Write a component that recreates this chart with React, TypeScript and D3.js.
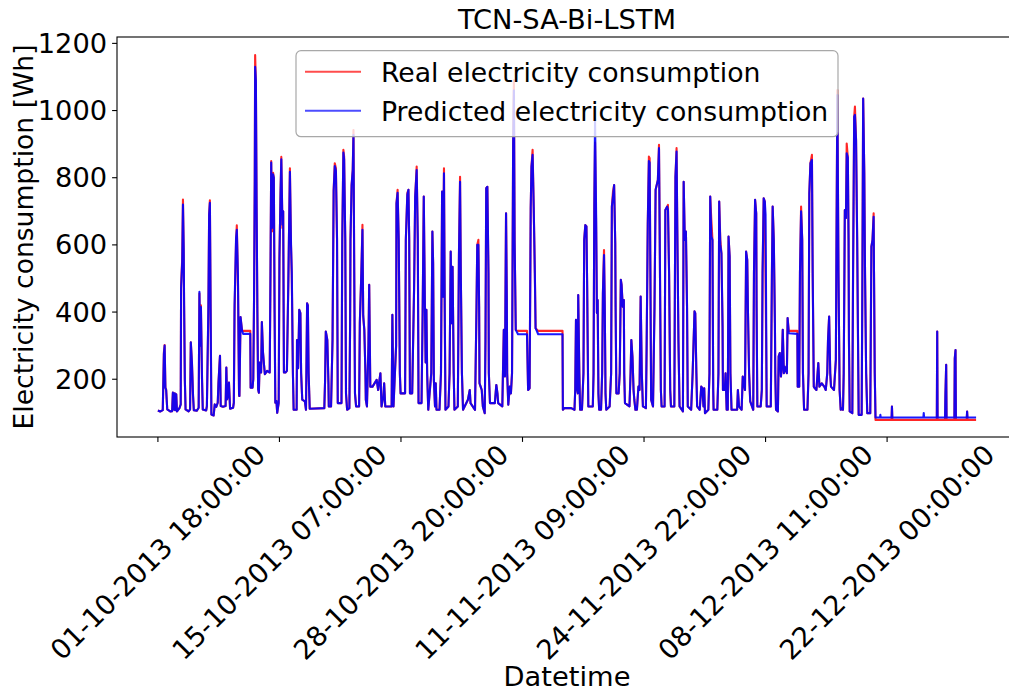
import React from 'react';
import * as d3 from 'd3';

const chartTitle = 'TCN-SA-Bi-LSTM';
const xAxisLabel = 'Datetime';
const yAxisLabel = 'Electricity consumption [Wh]';
const seriesNames = ['Real electricity consumption', 'Predicted electricity consumption'];
const seriesColors = ['#ff0000', '#0000ff'];
const pointCount = 2189;
const xTickIndex = [0, 325, 650, 975, 1300, 1625, 1950];
const xTickLabels = [
  '01-10-2013 18:00:00',
  '15-10-2013 07:00:00',
  '28-10-2013 20:00:00',
  '11-11-2013 09:00:00',
  '24-11-2013 22:00:00',
  '08-12-2013 11:00:00',
  '22-12-2013 00:00:00',
];
const yTicks = [200, 400, 600, 800, 1000, 1200];

// [hour index, real Wh, predicted Wh]
const samples: [number, number, number][] = [
  [0, 107, 107], [6, 104, 104], [13, 108, 108], [16, 280, 275], [18, 302, 300], [20, 175, 175], [22, 170, 168], [25, 110, 110],
  [33, 104, 104], [38, 105, 105], [40, 160, 160], [42, 110, 110], [45, 158, 158], [46, 108, 108], [49, 155, 155], [51, 104, 104],
  [58, 115, 115], [61, 125, 125], [62, 480, 470], [65, 560, 550], [67, 735, 720], [69, 580, 590], [70, 420, 430], [72, 200, 200],
  [74, 110, 110], [82, 104, 104], [86, 110, 110], [88, 310, 310], [91, 250, 250], [94, 150, 150], [96, 108, 108], [104, 106, 106],
  [109, 115, 115], [111, 455, 460], [113, 300, 300], [115, 420, 415], [118, 200, 200], [120, 110, 110], [129, 107, 107], [131, 120, 120],
  [135, 400, 420], [137, 690, 690], [139, 733, 725], [141, 400, 410], [143, 95, 95], [149, 92, 92], [152, 125, 125], [156, 118, 118],
  [160, 130, 130], [162, 190, 190], [164, 230, 230], [166, 270, 270], [168, 120, 120], [174, 118, 118], [181, 120, 120], [183, 235, 235],
  [185, 140, 140], [187, 150, 150], [190, 190, 190], [193, 112, 112], [201, 115, 115], [203, 130, 130], [205, 400, 420], [209, 610, 620],
  [211, 658, 645], [214, 500, 510], [217, 150, 155], [218, 150, 150], [221, 385, 385], [225, 345, 345], [228, 344, 335], [247, 344, 335],
  [248, 175, 175], [253, 175, 175], [255, 200, 200], [257, 420, 430], [259, 780, 790], [260, 1165, 1130], [262, 1080, 1090], [264, 700, 710],
  [266, 400, 400], [268, 170, 170], [270, 160, 160], [272, 250, 250], [276, 220, 220], [278, 370, 370], [281, 280, 280], [284, 240, 240],
  [286, 215, 215], [292, 225, 225], [299, 220, 220], [301, 500, 510], [303, 850, 845], [305, 640, 650], [308, 815, 810], [310, 800, 800],
  [312, 400, 410], [314, 130, 130], [317, 135, 135], [319, 100, 100], [323, 130, 130], [325, 560, 560], [328, 760, 760], [330, 862, 855],
  [333, 650, 660], [335, 700, 700], [337, 220, 220], [341, 220, 220], [345, 225, 225], [349, 500, 510], [353, 828, 818], [356, 595, 600],
  [358, 510, 520], [361, 218, 220], [363, 109, 109], [371, 109, 109], [372, 317, 317], [375, 233, 233], [378, 407, 407], [381, 397, 397],
  [383, 218, 218], [386, 139, 139], [393, 134, 134], [396, 109, 109], [399, 426, 426], [401, 420, 420], [403, 218, 218], [406, 112, 112],
  [445, 114, 114], [447, 193, 193], [449, 342, 342], [453, 317, 317], [456, 190, 190], [457, 119, 119], [463, 119, 119], [467, 317, 320],
  [470, 764, 760], [473, 843, 835], [476, 828, 820], [479, 615, 620], [481, 129, 129], [491, 129, 129], [493, 615, 620], [496, 883, 875],
  [498, 863, 855], [501, 615, 620], [503, 158, 158], [506, 109, 109], [512, 114, 114], [514, 367, 367], [515, 615, 615], [518, 778, 778],
  [521, 823, 823], [523, 942, 927], [525, 516, 520], [527, 158, 158], [530, 119, 119], [538, 119, 119], [540, 367, 370], [544, 516, 516],
  [547, 660, 645], [549, 387, 390], [552, 347, 347], [555, 218, 218], [556, 139, 139], [559, 119, 119], [563, 300, 300], [565, 481, 481],
  [568, 178, 178], [574, 178, 178], [585, 198, 198], [589, 168, 168], [595, 218, 218], [598, 119, 119], [603, 149, 149], [605, 188, 188],
  [608, 119, 119], [625, 119, 119], [627, 392, 392], [630, 119, 119], [637, 300, 300], [638, 724, 724], [641, 764, 755], [644, 615, 615],
  [647, 218, 218], [649, 158, 158], [661, 158, 158], [663, 615, 615], [667, 754, 749], [670, 764, 764], [672, 615, 615], [674, 158, 158],
  [680, 158, 158], [685, 466, 466], [688, 744, 744], [692, 833, 823], [695, 615, 615], [697, 129, 129], [705, 129, 129], [708, 400, 400],
  [711, 744, 744], [714, 416, 416], [716, 250, 250], [718, 407, 407], [720, 218, 218], [723, 109, 109], [731, 218, 218], [734, 640, 640],
  [736, 545, 545], [738, 198, 198], [741, 119, 119], [743, 188, 188], [745, 109, 109], [753, 109, 109], [757, 218, 218], [760, 759, 759],
  [762, 446, 446], [765, 828, 813], [767, 416, 416], [769, 109, 109], [777, 119, 119], [780, 218, 218], [783, 580, 580], [786, 367, 367],
  [788, 535, 535], [791, 218, 218], [793, 109, 109], [802, 119, 119], [805, 565, 565], [808, 803, 788], [810, 516, 516], [813, 218, 218],
  [816, 109, 109], [829, 139, 139], [834, 168, 168], [836, 129, 129], [848, 109, 109], [852, 416, 416], [854, 600, 600], [857, 615, 600],
  [859, 416, 416], [860, 188, 188], [863, 178, 178], [866, 168, 168], [869, 119, 119], [874, 99, 99], [876, 317, 317], [878, 769, 769],
  [881, 773, 773], [884, 516, 516], [885, 218, 218], [888, 129, 129], [901, 129, 129], [905, 183, 183], [908, 158, 158], [910, 129, 129],
  [921, 119, 119], [925, 347, 347], [928, 208, 208], [931, 694, 694], [933, 446, 446], [934, 218, 218], [937, 124, 124], [941, 178, 178],
  [944, 158, 158], [947, 218, 218], [950, 912, 900], [952, 1090, 1060], [954, 605, 605], [957, 347, 347], [963, 344, 334], [987, 344, 334],
  [990, 168, 168], [994, 173, 173], [997, 712, 712], [999, 833, 833], [1002, 883, 868], [1005, 712, 712], [1008, 516, 516], [1010, 352, 352],
  [1017, 344, 334], [1082, 344, 334], [1083, 109, 109], [1087, 114, 114], [1096, 114, 114], [1105, 114, 114], [1114, 109, 109], [1116, 168, 168],
  [1118, 377, 377], [1120, 178, 178], [1123, 158, 158], [1124, 451, 451], [1127, 218, 218], [1129, 109, 109], [1134, 109, 109], [1138, 218, 218],
  [1140, 615, 615], [1143, 659, 659], [1146, 655, 655], [1148, 466, 466], [1151, 119, 119], [1163, 119, 119], [1165, 218, 218], [1167, 714, 714],
  [1169, 905, 975], [1172, 645, 680], [1174, 397, 397], [1176, 436, 436], [1178, 158, 158], [1180, 109, 109], [1185, 109, 109], [1188, 218, 218],
  [1190, 456, 456], [1193, 585, 570], [1195, 416, 416], [1197, 158, 158], [1199, 109, 109], [1208, 119, 119], [1212, 218, 218], [1214, 714, 714],
  [1217, 759, 745], [1220, 778, 778], [1223, 605, 605], [1224, 416, 416], [1226, 158, 158], [1232, 158, 158], [1235, 218, 218], [1238, 496, 496],
  [1240, 481, 481], [1243, 416, 416], [1246, 436, 436], [1247, 218, 218], [1249, 129, 129], [1261, 119, 119], [1264, 218, 218], [1266, 317, 317],
  [1269, 268, 268], [1272, 168, 168], [1274, 139, 139], [1277, 109, 109], [1281, 109, 109], [1285, 178, 178], [1288, 168, 168], [1291, 446, 446],
  [1294, 218, 218], [1297, 119, 119], [1305, 114, 114], [1307, 300, 300], [1310, 664, 664], [1313, 863, 850], [1315, 858, 845], [1317, 516, 516],
  [1319, 139, 139], [1324, 119, 119], [1328, 416, 416], [1331, 764, 764], [1337, 793, 793], [1340, 898, 888], [1342, 615, 615], [1345, 168, 168],
  [1347, 119, 119], [1355, 119, 119], [1357, 704, 704], [1362, 714, 714], [1364, 719, 705], [1367, 516, 516], [1370, 168, 168], [1372, 119, 119],
  [1381, 119, 119], [1384, 803, 803], [1387, 888, 878], [1389, 645, 645], [1392, 317, 317], [1395, 119, 119], [1404, 104, 104], [1406, 788, 788],
  [1409, 615, 615], [1412, 640, 640], [1415, 416, 416], [1417, 119, 119], [1426, 109, 109], [1430, 218, 218], [1435, 402, 402], [1437, 397, 397],
  [1440, 218, 218], [1442, 119, 119], [1449, 109, 109], [1453, 178, 178], [1456, 173, 173], [1459, 119, 119], [1461, 173, 173], [1463, 99, 99],
  [1472, 109, 109], [1475, 218, 218], [1477, 744, 744], [1480, 674, 625], [1483, 615, 615], [1485, 168, 168], [1486, 109, 109], [1496, 109, 109],
  [1499, 218, 218], [1501, 729, 729], [1504, 615, 600], [1507, 575, 575], [1510, 357, 357], [1511, 168, 168], [1516, 168, 168], [1518, 218, 218],
  [1521, 109, 109], [1524, 109, 109], [1526, 625, 625], [1529, 565, 565], [1531, 218, 218], [1534, 109, 109], [1549, 109, 109], [1551, 168, 168],
  [1554, 119, 119], [1561, 109, 109], [1564, 208, 208], [1570, 168, 168], [1573, 580, 580], [1576, 555, 555], [1578, 397, 397], [1581, 218, 218],
  [1584, 134, 134], [1592, 109, 109], [1594, 516, 516], [1597, 734, 734], [1600, 694, 694], [1601, 416, 416], [1603, 119, 119], [1612, 119, 119],
  [1615, 168, 168], [1617, 516, 516], [1620, 739, 739], [1623, 729, 729], [1625, 500, 690], [1628, 119, 119], [1639, 119, 119], [1642, 516, 516],
  [1644, 714, 714], [1647, 615, 615], [1650, 367, 367], [1651, 218, 218], [1653, 109, 109], [1658, 104, 104], [1660, 268, 268], [1663, 278, 278],
  [1666, 208, 208], [1668, 228, 228], [1671, 347, 347], [1674, 218, 218], [1676, 238, 238], [1679, 228, 228], [1682, 218, 218], [1684, 382, 382],
  [1687, 344, 337], [1710, 344, 335], [1711, 178, 178], [1715, 178, 178], [1717, 516, 516], [1720, 714, 700], [1723, 615, 615], [1725, 218, 218],
  [1728, 109, 109], [1737, 109, 109], [1740, 218, 218], [1742, 754, 754], [1745, 843, 843], [1749, 868, 853], [1751, 516, 516], [1754, 178, 178],
  [1757, 173, 173], [1761, 168, 168], [1766, 248, 248], [1769, 178, 178], [1775, 188, 188], [1782, 178, 178], [1786, 168, 168], [1790, 218, 218],
  [1792, 317, 317], [1795, 387, 387], [1798, 218, 218], [1800, 178, 178], [1808, 168, 168], [1813, 258, 258], [1815, 674, 674], [1817, 1061, 1046],
  [1820, 516, 516], [1823, 168, 168], [1826, 109, 109], [1828, 114, 114], [1832, 109, 109], [1834, 218, 218], [1837, 704, 704], [1840, 680, 680],
  [1842, 902, 873], [1845, 860, 860], [1847, 615, 615], [1848, 317, 317], [1850, 104, 104], [1857, 99, 99], [1859, 516, 516], [1862, 982, 982],
  [1864, 1012, 987], [1867, 912, 912], [1870, 615, 615], [1873, 218, 218], [1874, 94, 94], [1882, 94, 94], [1884, 516, 516], [1886, 1036, 1036],
  [1889, 813, 813], [1891, 516, 516], [1894, 218, 218], [1897, 99, 99], [1905, 99, 99], [1908, 595, 595], [1911, 615, 615], [1914, 694, 684],
  [1915, 516, 516], [1917, 218, 218], [1919, 79, 86], [1931, 79, 86], [1932, 79, 94], [1933, 79, 86], [1962, 79, 86], [1963, 119, 119],
  [1964, 79, 86], [2047, 79, 86], [2048, 79, 99], [2049, 79, 86], [2083, 79, 86], [2084, 342, 342], [2085, 79, 86], [2105, 79, 86],
  [2106, 150, 158], [2108, 243, 243], [2109, 79, 86], [2130, 79, 86], [2131, 262, 262], [2133, 287, 287], [2134, 79, 86], [2163, 79, 86],
  [2164, 104, 104], [2165, 79, 86], [2188, 79, 86],
];

const FONT = 'DejaVu Sans, sans-serif';

export default function App() {
  const W = 1009;
  const H = 693;
  const left = 117;
  const right = 1017;
  const top = 37;
  const bottom = 437;

  const x = d3.scaleLinear().domain([-0.05 * (pointCount - 1), 1.05 * (pointCount - 1)]).range([left, right]);
  const y = d3.scaleLinear().domain([28, 1219]).range([bottom, top]);

  const realLine = d3.line<[number, number, number]>().x((d) => x(d[0])).y((d) => y(d[1]));
  const predLine = d3.line<[number, number, number]>().x((d) => x(d[0])).y((d) => y(d[2]));

  const tickLen = 4.9;
  const tickPad = 4.9;
  const labelFont = 27.3;
  const yLabelFont = 26.6;
  const legendFont = 26.7;
  const xLabelCenterY = bottom + tickLen + tickPad + 105.5;

  const legendX = 296;
  const legendY = 50.7;
  const legendW = 542;
  const legendH = 86;

  return (
    <svg width={W} height={H} style={{ position: 'absolute', left: 0, top: 0, background: '#fff' }} fontFamily={FONT}>
      <rect x={0} y={0} width={W} height={H} fill="#fff" />
      <defs>
        <clipPath id="plotClip">
          <rect x={left} y={top} width={right - left} height={bottom - top} />
        </clipPath>
      </defs>
      <g clipPath="url(#plotClip)" fill="none" strokeLinejoin="round" strokeLinecap="butt">
        <path d={realLine(samples) || ''} stroke={seriesColors[0]} strokeWidth={2.1} strokeOpacity={0.85} />
        <path d={predLine(samples) || ''} stroke={seriesColors[1]} strokeWidth={2.1} strokeOpacity={0.9} />
      </g>
      {/* spines */}
      <rect x={left} y={top} width={right - left} height={bottom - top} fill="none" stroke="#000" strokeWidth={1.1} />
      {/* y ticks */}
      {yTicks.map((t) => (
        <g key={t}>
          <line x1={left - tickLen} x2={left} y1={y(t)} y2={y(t)} stroke="#000" strokeWidth={1.1} />
          <text x={left - tickLen - tickPad} y={y(t)} textAnchor="end" dominantBaseline="central" fontSize={labelFont}>
            {t}
          </text>
        </g>
      ))}
      {/* x ticks */}
      {xTickIndex.map((t, i) => (
        <g key={t}>
          <line x1={x(t)} x2={x(t)} y1={bottom} y2={bottom + tickLen} stroke="#000" strokeWidth={1.1} />
          <text
            x={x(t)}
            y={xLabelCenterY}
            textAnchor="middle"
            dominantBaseline="central"
            fontSize={labelFont}
            transform={`rotate(-45 ${x(t)} ${xLabelCenterY})`}
          >
            {xTickLabels[i]}
          </text>
        </g>
      ))}
      {/* title & labels */}
      <text x={(left + right) / 2} y={28.7} textAnchor="middle" fontSize={labelFont}>
        {chartTitle}
      </text>
      <text x={(left + right) / 2} y={686} textAnchor="middle" fontSize={labelFont}>
        {xAxisLabel}
      </text>
      <text
        x={33}
        y={(top + bottom) / 2}
        textAnchor="middle"
        fontSize={yLabelFont}
        transform={`rotate(-90 33 ${(top + bottom) / 2})`}
      >
        {yAxisLabel}
      </text>
      {/* legend */}
      <rect x={legendX} y={legendY} width={legendW} height={legendH} rx={5} ry={5} fill="#fff" fillOpacity={0.8} stroke="#a8a8a8" strokeWidth={1.2} />
      {seriesNames.map((name, i) => {
        const cy = 71.7 + i * 39;
        return (
          <g key={name}>
            <line x1={305} x2={361} y1={cy} y2={cy} stroke={seriesColors[i]} strokeWidth={2} strokeOpacity={0.7} />
            <text x={381} y={cy + 9.8} fontSize={legendFont}>
              {name}
            </text>
          </g>
        );
      })}
    </svg>
  );
}
